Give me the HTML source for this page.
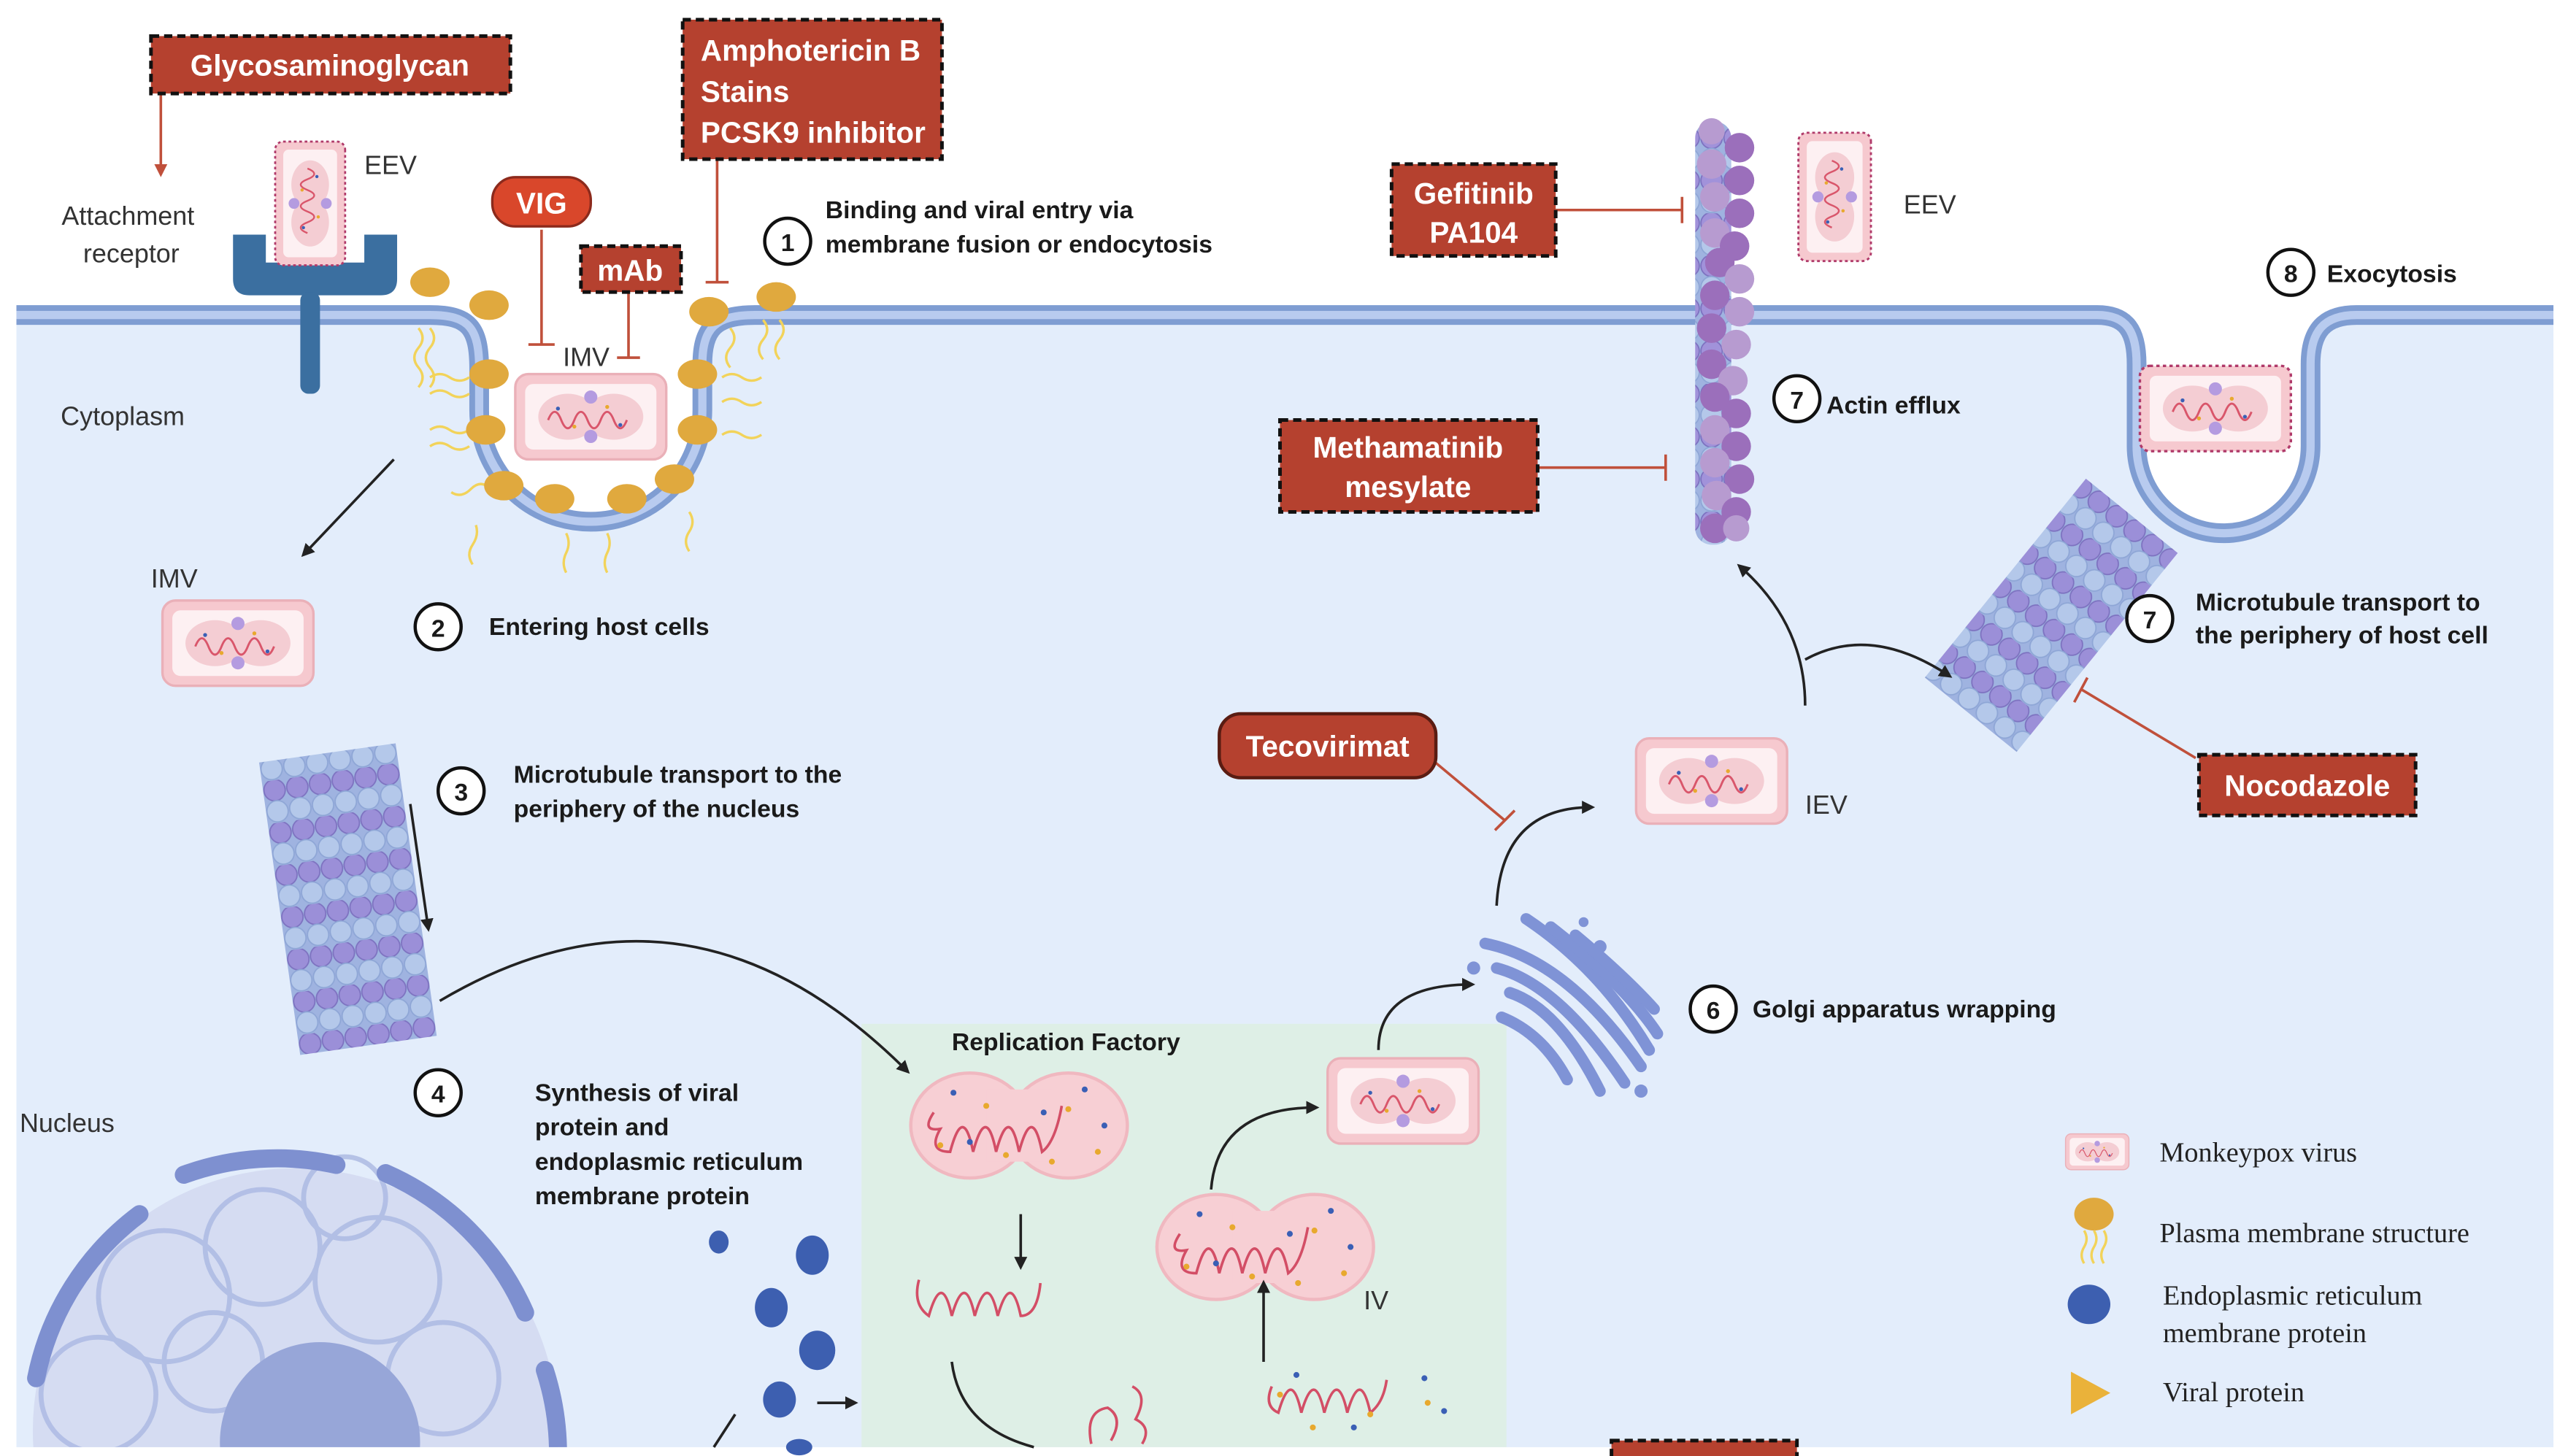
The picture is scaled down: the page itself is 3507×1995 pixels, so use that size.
<!DOCTYPE html>
<html><head><meta charset="utf-8"><style>
html,body{margin:0;padding:0;background:#fff;width:3507px;height:1995px;overflow:hidden;}
svg{display:block;}
text{font-family:"Liberation Sans",sans-serif;}
.b{font-weight:bold;fill:#1a1a1a;font-size:15px;}
.n{fill:#333;font-size:16px;}
.w{font-weight:bold;fill:#fff;font-size:18px;}
.s{font-family:"Liberation Serif",serif;fill:#222;font-size:17px;}
</style></head><body>
<svg width="3507" height="1995" viewBox="0 0 1560 887.4" preserveAspectRatio="none" xmlns="http://www.w3.org/2000/svg">
<defs>
<marker id="ah" markerWidth="8" markerHeight="8" refX="6" refY="4" orient="auto" markerUnits="userSpaceOnUse"><path d="M0,0 L8,4 L0,8 Z" fill="#222"/></marker>
<marker id="ahr" markerWidth="8" markerHeight="8" refX="6" refY="4" orient="auto" markerUnits="userSpaceOnUse"><path d="M0,0 L8,4 L0,8 Z" fill="#c0503b"/></marker>
<pattern id="mt" width="14" height="26" patternUnits="userSpaceOnUse">
<rect width="14" height="26" fill="#9fb3e0"/>
<circle cx="7" cy="6" r="6.5" fill="#9b8fd8" stroke="#7d72c0" stroke-width="0.8"/>
<circle cx="7" cy="19" r="6.5" fill="#b4c8ea" stroke="#8ea6d6" stroke-width="0.8"/>
</pattern>
<pattern id="mt2" width="14" height="26" patternUnits="userSpaceOnUse">
<rect width="14" height="26" fill="#9fb3e0"/>
<circle cx="7" cy="6" r="6.5" fill="#a192da" stroke="#7d72c0" stroke-width="0.8"/>
<circle cx="7" cy="19" r="6.5" fill="#b4c8ea" stroke="#8ea6d6" stroke-width="0.8"/>
</pattern>
<g id="core">
<ellipse cx="-14" cy="0" rx="18" ry="14" fill="#f4cdd3"/>
<ellipse cx="14" cy="0" rx="18" ry="14" fill="#f4cdd3"/>
<path d="M-26,2 q4,-10 8,0 t8,0 t8,0 t8,0 t8,0 t8,0" fill="none" stroke="#d9566b" stroke-width="1.3"/>
<circle cx="0" cy="-12" r="4" fill="#b49be0"/><circle cx="0" cy="12" r="4" fill="#b49be0"/>
<circle cx="-20" cy="-5" r="1.2" fill="#3a5fb5"/><circle cx="18" cy="5" r="1.2" fill="#3a5fb5"/><circle cx="10" cy="-6" r="1.2" fill="#e8a92e"/><circle cx="-10" cy="6" r="1.2" fill="#e8a92e"/>
</g>
<g id="vir">
<rect x="-46" y="-26" width="92" height="52" rx="8" fill="#f6c9cf" stroke="#eab0b8" stroke-width="1.5"/>
<rect x="-40" y="-20" width="80" height="40" rx="5" fill="#fdf0f2"/>
<use href="#core"/>
</g>
<g id="eev">
<rect x="-46" y="-26" width="92" height="52" rx="6" fill="#f6c9cf" stroke="#b03a6a" stroke-width="1.5" stroke-dasharray="2 2"/>
<rect x="-40" y="-20" width="80" height="40" rx="4" fill="#fdf0f2"/>
<use href="#core"/>
</g>
<g id="peanut">
<ellipse cx="-30" cy="0" rx="36" ry="32" fill="#f7cfd4" stroke="#f0b8c0" stroke-width="2"/>
<ellipse cx="30" cy="0" rx="36" ry="32" fill="#f7cfd4" stroke="#f0b8c0" stroke-width="2"/>
<rect x="-20" y="-22" width="40" height="44" fill="#f7cfd4"/>
<path d="M-52,-8 q-8,12 4,10 q-8,14 6,14 q8,-30 14,0 q8,-30 14,0 q8,-30 14,0 q8,-30 14,0 q8,-6 12,-28" fill="none" stroke="#d34e66" stroke-width="1.6"/>
<circle cx="-40" cy="-20" r="1.8" fill="#3a5fb5"/><circle cx="40" cy="-22" r="1.8" fill="#3a5fb5"/><circle cx="-30" cy="10" r="1.8" fill="#3a5fb5"/><circle cx="52" cy="0" r="1.8" fill="#3a5fb5"/><circle cx="15" cy="-8" r="1.8" fill="#3a5fb5"/>
<circle cx="-20" cy="-12" r="1.8" fill="#e8a92e"/><circle cx="30" cy="-10" r="1.8" fill="#e8a92e"/><circle cx="-48" cy="12" r="1.8" fill="#e8a92e"/><circle cx="48" cy="16" r="1.8" fill="#e8a92e"/><circle cx="-8" cy="18" r="1.8" fill="#e8a92e"/><circle cx="20" cy="22" r="1.8" fill="#e8a92e"/>
</g>
<g id="pm">
<ellipse cx="0" cy="0" rx="12" ry="9" fill="#e0a93e"/>
</g>
<clipPath id="cellclip"><rect x="10" y="190" width="1546" height="692"/></clipPath>
</defs>

<rect width="1560" height="888" fill="#fff"/>
<path d="M10,192 H262 C286,192 292,200 292,225 V250 A68,68 0 0 0 428,250 V222 C428,200 436,192 460,192 H1278 C1296,192 1302,202 1302,222 V272 A53,53 0 0 0 1408,272 V222 C1408,202 1416,192 1436,192 H1556 V882 H10 Z" fill="#e3edfb"/>
<path d="M10,192 H262 C286,192 292,200 292,225 V250 A68,68 0 0 0 428,250 V222 C428,200 436,192 460,192 H1278 C1296,192 1302,202 1302,222 V272 A53,53 0 0 0 1408,272 V222 C1408,202 1416,192 1436,192 H1556" fill="none" stroke="#7f9dd2" stroke-width="12"/>
<path d="M10,192 H262 C286,192 292,200 292,225 V250 A68,68 0 0 0 428,250 V222 C428,200 436,192 460,192 H1278 C1296,192 1302,202 1302,222 V272 A53,53 0 0 0 1408,272 V222 C1408,202 1416,192 1436,192 H1556" fill="none" stroke="#b8cbef" stroke-width="5"/>

<rect x="525" y="624" width="393" height="258" fill="#deefe6"/>

<g clip-path="url(#cellclip)">
<circle cx="180" cy="872" r="160" fill="#d5dcf2"/>
<g fill="none" stroke="#aab8e2" stroke-width="3" opacity="0.8">
<circle cx="100" cy="790" r="40"/><circle cx="160" cy="760" r="35"/><circle cx="230" cy="780" r="38"/><circle cx="60" cy="850" r="35"/><circle cx="270" cy="840" r="34"/><circle cx="130" cy="830" r="30"/><circle cx="210" cy="730" r="25"/>
</g>
<circle cx="195" cy="879" r="61" fill="#97a6d8"/>
<g fill="none" stroke="#7e90d0" stroke-width="11" stroke-linecap="round">
<path d="M22,840 A165,165 0 0 1 85,740"/>
<path d="M112,716 A165,165 0 0 1 205,710"/>
<path d="M235,715 A165,165 0 0 1 320,800"/>
<path d="M332,835 A165,165 0 0 1 340,882"/>
</g>
</g>

<path d="M142,143 V170 Q142,180 152,180 H232 Q242,180 242,170 V143 H222 V160 H162 V143 Z" fill="#3b6fa0"/>
<rect x="183" y="178" width="12" height="62" rx="5" fill="#3b6fa0"/>
<g transform="translate(189,124) rotate(90) scale(0.82)"><use href="#eev"/></g>

<g stroke="#f2d35a" stroke-width="1.5" fill="none">
<path d="M255,200 q5,6 0,12 t0,12 t0,12"/><path d="M262,200 q5,6 0,12 t0,12 t0,12"/>
<path d="M262,230 q6,-4 12,0 t12,0"/><path d="M262,240 q6,-4 12,0 t12,0"/><path d="M262,262 q6,-4 12,0 t12,0"/><path d="M262,272 q6,-4 12,0 t12,0"/>
<path d="M275,300 q6,4 12,-2 t12,0"/><path d="M290,320 q2,6 -2,12 t0,12"/><path d="M345,325 q3,6 0,12 t0,12"/><path d="M370,325 q3,6 0,12 t0,12"/>
<path d="M420,312 q4,6 0,12 t0,12"/><path d="M440,230 q6,-4 12,0 t12,0"/><path d="M440,245 q6,-4 12,0 t12,0"/><path d="M440,265 q6,-4 12,0 t12,0"/><path d="M445,200 q5,6 0,12 t0,12"/><path d="M465,195 q5,6 0,12 t0,12"/><path d="M475,195 q5,6 0,12 t0,12"/>
</g>
<use href="#pm" x="262" y="172"/><use href="#pm" x="298" y="186"/><use href="#pm" x="298" y="228"/><use href="#pm" x="296" y="262"/>
<use href="#pm" x="307" y="296"/><use href="#pm" x="338" y="304"/><use href="#pm" x="382" y="304"/><use href="#pm" x="411" y="292"/>
<use href="#pm" x="425" y="262"/><use href="#pm" x="425" y="228"/><use href="#pm" x="432" y="190"/><use href="#pm" x="473" y="181"/>

<use href="#vir" x="360" y="254"/>
<use href="#vir" x="145" y="392"/>
<g transform="translate(1118,120) rotate(90) scale(0.85)"><use href="#eev"/></g>
<use href="#eev" x="1350" y="249"/>
<use href="#vir" x="1043" y="476"/>
<use href="#vir" x="855" y="671"/>

<g>
<rect x="1033" y="74" width="22" height="258" rx="10" fill="url(#mt2)"/>
<g fill="#9b6fbb">
<circle cx="1043" cy="80" r="8" fill="#b79bd0"/><circle cx="1060" cy="90" r="9"/><circle cx="1043" cy="100" r="9" fill="#b79bd0"/><circle cx="1060" cy="110" r="9"/><circle cx="1045" cy="120" r="9" fill="#b79bd0"/><circle cx="1060" cy="130" r="9"/><circle cx="1045" cy="142" r="9" fill="#b79bd0"/><circle cx="1057" cy="150" r="9"/><circle cx="1048" cy="160" r="9"/><circle cx="1060" cy="170" r="9" fill="#b79bd0"/><circle cx="1045" cy="180" r="9"/><circle cx="1060" cy="190" r="9" fill="#b79bd0"/><circle cx="1043" cy="200" r="9"/><circle cx="1058" cy="210" r="9" fill="#b79bd0"/><circle cx="1043" cy="222" r="9"/><circle cx="1056" cy="232" r="9" fill="#b79bd0"/><circle cx="1045" cy="242" r="9"/><circle cx="1058" cy="252" r="9"/><circle cx="1045" cy="262" r="9" fill="#b79bd0"/><circle cx="1058" cy="272" r="9"/><circle cx="1045" cy="282" r="9" fill="#b79bd0"/><circle cx="1060" cy="292" r="9"/><circle cx="1046" cy="302" r="9" fill="#b79bd0"/><circle cx="1058" cy="312" r="9"/><circle cx="1045" cy="322" r="9"/><circle cx="1058" cy="322" r="8" fill="#b79bd0"/>
</g>
</g>

<rect x="-42" y="-90" width="84" height="180" fill="url(#mt)" transform="translate(212,548) rotate(-8)"/>
<rect x="-36" y="-78" width="72" height="156" fill="url(#mt)" transform="translate(1250,375) rotate(39)"/>

<g fill="none" stroke="#7f93d6" stroke-width="7" stroke-linecap="round">
<path d="M905,575 Q955,585 1000,650"/>
<path d="M912,590 Q950,600 990,660"/>
<path d="M920,605 Q950,615 975,665"/>
<path d="M930,560 Q975,590 1005,640"/>
<path d="M945,565 Q990,600 1010,630"/>
<path d="M960,570 Q990,595 1008,615"/>
<path d="M915,620 Q940,630 955,658"/>
</g>
<g fill="#7f93d6"><circle cx="898" cy="590" r="4"/><circle cx="1000" cy="665" r="4"/><circle cx="975" cy="577" r="4"/><circle cx="965" cy="562" r="3"/></g>

<use href="#peanut" x="621" y="686"/>
<use href="#peanut" x="771" y="760"/>
<path d="M560,780 q-4,15 6,22 q8,-28 14,0 q8,-28 14,0 q8,-28 14,0 q8,-28 14,0 q10,0 12,-20" fill="none" stroke="#d34e66" stroke-width="1.6"/>
<path d="M665,880 q-4,-20 10,-22 q10,6 2,20 M690,845 q10,5 2,20 q10,5 4,15" fill="none" stroke="#d34e66" stroke-width="1.6"/>
<path d="M775,845 q-5,12 4,16 q8,-28 14,0 q8,-28 14,0 q8,-28 14,0 q8,-28 14,0 q8,-6 10,-20" fill="none" stroke="#d34e66" stroke-width="1.6"/>
<g fill="#e8a92e"><circle cx="780" cy="850" r="1.8"/><circle cx="800" cy="870" r="1.8"/><circle cx="835" cy="862" r="1.8"/><circle cx="870" cy="855" r="1.8"/></g>
<g fill="#3a5fb5"><circle cx="790" cy="838" r="1.8"/><circle cx="825" cy="870" r="1.8"/><circle cx="880" cy="860" r="1.8"/><circle cx="868" cy="840" r="1.8"/></g>

<g fill="#3d5fb0">
<ellipse cx="438" cy="757" rx="6" ry="7"/><ellipse cx="495" cy="765" rx="10" ry="12"/><ellipse cx="470" cy="797" rx="10" ry="12"/><ellipse cx="498" cy="823" rx="11" ry="12"/><ellipse cx="475" cy="853" rx="10" ry="11"/><ellipse cx="487" cy="882" rx="8" ry="5"/>
</g>

<g fill="none" stroke="#222" stroke-width="1.6" marker-end="url(#ah)">
<path d="M240,280 L185,338"/>
<path d="M250,490 L261,566"/>
<path d="M268,610 Q420,520 553,653"/>
<path d="M622,740 L622,772"/>
<path d="M738,725 Q742,675 802,675"/>
<path d="M770,830 L770,782"/>
<path d="M840,640 Q840,600 897,600"/>
<path d="M912,552 Q915,492 970,492"/>
<path d="M1100,430 Q1100,380 1060,345"/>
<path d="M1100,402 Q1140,380 1188,412"/>
<path d="M498,855 L521,855"/>
</g>
<g fill="none" stroke="#222" stroke-width="1.6">
<path d="M435,882 L448,862"/>
<path d="M580,830 Q585,870 630,882"/>
</g>

<g fill="none" stroke="#c0503b" stroke-width="1.6">
<path d="M98,57 V106" marker-end="url(#ahr)"/>
<path d="M330,140 V210 M322,210 H338"/>
<path d="M383,178 V218 M376,218 H390"/>
<path d="M437,97 V172 M430,172 H444"/>
<path d="M948,128 H1025 M1025,120 V136"/>
<path d="M937,285 H1015 M1015,277 V293"/>
<path d="M875,465 L917,500 M911,506 L923,494"/>
<path d="M1338,462 L1268,420 M1264,428 L1272,413"/>
</g>

<g fill="#b5412f" stroke="#111" stroke-width="2.2" stroke-dasharray="5 3">
<rect x="92" y="22" width="219" height="35"/>
<rect x="416" y="12" width="158" height="85"/>
<rect x="354" y="150" width="61" height="28"/>
<rect x="848" y="100" width="100" height="56"/>
<rect x="780" y="256" width="157" height="56"/>
<rect x="1340" y="460" width="132" height="37"/>
<rect x="982" y="878" width="113" height="12"/>
</g>
<rect x="300" y="108" width="60" height="30" rx="14" fill="#d9472b" stroke="#8c2a1c" stroke-width="1.5"/>
<rect x="743" y="435" width="132" height="39" rx="13" fill="#b5412f" stroke="#5a1c12" stroke-width="2"/>

<text class="w" x="201" y="46" text-anchor="middle">Glycosaminoglycan</text>
<text class="w" x="427" y="37">Amphotericin B</text>
<text class="w" x="427" y="62">Stains</text>
<text class="w" x="427" y="87">PCSK9 inhibitor</text>
<text class="w" x="330" y="130" text-anchor="middle">VIG</text>
<text class="w" x="384" y="171" text-anchor="middle">mAb</text>
<text class="w" x="898" y="124" text-anchor="middle">Gefitinib</text>
<text class="w" x="898" y="148" text-anchor="middle">PA104</text>
<text class="w" x="858" y="279" text-anchor="middle">Methamatinib</text>
<text class="w" x="858" y="303" text-anchor="middle">mesylate</text>
<text class="w" x="809" y="461" text-anchor="middle">Tecovirimat</text>
<text class="w" x="1406" y="485" text-anchor="middle">Nocodazole</text>

<text class="n" x="78" y="137" text-anchor="middle">Attachment</text>
<text class="n" x="80" y="160" text-anchor="middle">receptor</text>
<text class="n" x="222" y="106" font-size="15">EEV</text>
<text class="n" x="37" y="259">Cytoplasm</text>
<text class="n" x="343" y="223" font-size="15">IMV</text>
<text class="n" x="92" y="358">IMV</text>
<text class="n" x="12" y="690">Nucleus</text>
<text class="n" x="1160" y="130">EEV</text>
<text class="n" x="1100" y="496">IEV</text>
<text class="n" x="831" y="798">IV</text>
<text class="b" x="580" y="640" font-size="16">Replication Factory</text>

<g fill="#fff" stroke="#111" stroke-width="2">
<circle cx="480" cy="147" r="14"/><circle cx="267" cy="382" r="14"/><circle cx="281" cy="482" r="14"/><circle cx="267" cy="666" r="14"/>
<circle cx="1044" cy="615" r="14"/><circle cx="1310" cy="377" r="14"/><circle cx="1095" cy="243" r="14"/><circle cx="1396" cy="166" r="14"/>
</g>
<g class="b" text-anchor="middle" font-size="16">
<text x="480" y="153">1</text><text x="267" y="388">2</text><text x="281" y="488">3</text><text x="267" y="672">4</text>
<text x="1044" y="621">6</text><text x="1310" y="383">7</text><text x="1095" y="249">7</text><text x="1396" y="172">8</text>
</g>
<text class="b" x="503" y="133">Binding and viral entry via</text>
<text class="b" x="503" y="154">membrane fusion or endocytosis</text>
<text class="b" x="298" y="387">Entering host cells</text>
<text class="b" x="313" y="477">Microtubule transport to the</text>
<text class="b" x="313" y="498">periphery of the nucleus</text>
<text class="b" x="326" y="671">Synthesis of viral</text>
<text class="b" x="326" y="692">protein and</text>
<text class="b" x="326" y="713">endoplasmic reticulum</text>
<text class="b" x="326" y="734">membrane protein</text>
<text class="b" x="1068" y="620">Golgi apparatus wrapping</text>
<text class="b" x="1338" y="372">Microtubule transport to</text>
<text class="b" x="1338" y="392">the periphery of host cell</text>
<text class="b" x="1113" y="252">Actin efflux</text>
<text class="b" x="1418" y="172">Exocytosis</text>

<g transform="translate(1278,702) scale(0.42)"><use href="#vir"/></g>
<ellipse cx="1276" cy="740" rx="12" ry="10" fill="#e0a93e"/>
<g stroke="#f2d35a" stroke-width="1.5" fill="none"><path d="M1270,750 q3,5 0,10 t0,10"/><path d="M1276,750 q3,5 0,10 t0,10"/><path d="M1282,750 q3,5 0,10 t0,10"/></g>
<ellipse cx="1273" cy="795" rx="13" ry="12" fill="#3d5fb0"/>
<path d="M1262,836 L1286,849 L1262,862 Z" fill="#eab23a"/>
<text class="s" x="1316" y="708">Monkeypox virus</text>
<text class="s" x="1316" y="757">Plasma membrane structure</text>
<text class="s" x="1318" y="795">Endoplasmic reticulum</text>
<text class="s" x="1318" y="818">membrane protein</text>
<text class="s" x="1318" y="854">Viral protein</text>
</svg>
</body></html>
